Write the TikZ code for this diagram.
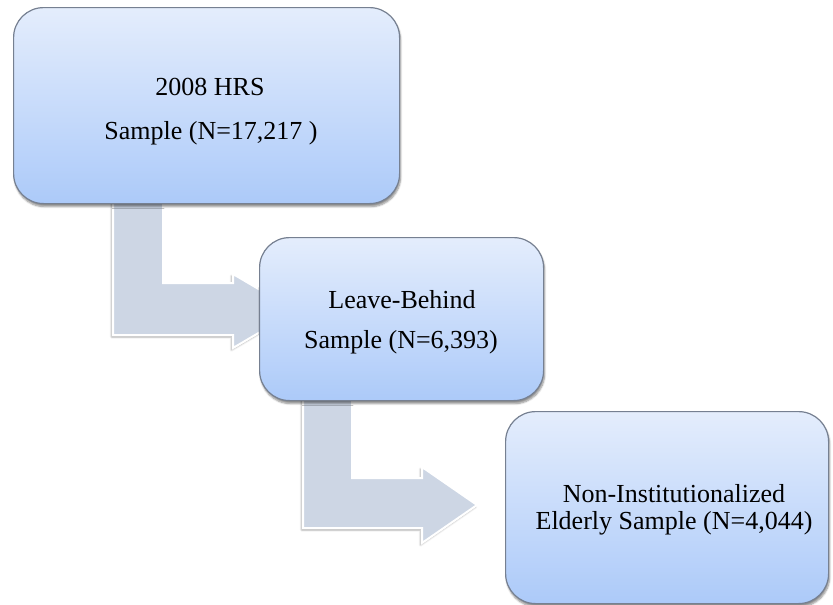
\documentclass[tikz,border=0pt]{standalone}
\usepackage{fontspec}
\setmainfont{Liberation Serif}
\usetikzlibrary{shadows.blur}
\definecolor{boxtop}{RGB}{228,237,252}
\definecolor{boxbot}{RGB}{172,202,249}
\definecolor{boxline}{RGB}{118,128,145}
\definecolor{arrowfill}{RGB}{205,214,228}
\tikzset{
  flowbox/.style={draw=boxline, line width=1.2pt, rounded corners=30pt,
    top color=boxtop, bottom color=boxbot, inner sep=0pt,
    blur shadow={shadow xshift=1pt, shadow yshift=-3pt, shadow blur steps=6, shadow opacity=45}},
  bentarrow/.style={fill=arrowfill, draw=white, line width=2pt, line join=miter,
    blur shadow={shadow xshift=-1.5pt, shadow yshift=-2pt, shadow blur steps=4, shadow opacity=35}},
  boxtext/.style={font=\fontsize{26}{30}\selectfont, anchor=base, inner sep=0pt}
}
\begin{document}
\begin{tikzpicture}[x=1pt, y=-1pt]
\useasboundingbox (0,0) rectangle (833,605);
% bent arrows (drawn first, under the boxes)
\draw[bentarrow] (113,190) -- (163,190) -- (163,283) -- (233,283) -- (233,274)
  -- (296,311) -- (233,348) -- (233,335) -- (113,335) -- cycle;
\draw[bentarrow] (303,385) -- (352,385) -- (352,478) -- (422,478) -- (422,467)
  -- (477,505) -- (422,543) -- (422,528) -- (303,528) -- cycle;
% boxes
\node[flowbox, minimum width=386pt, minimum height=196pt, anchor=north west] (b1) at (13,7) {};
\node[flowbox, minimum width=284pt, minimum height=163pt, anchor=north west] (b2) at (259,237) {};
\node[flowbox, minimum width=323pt, minimum height=192pt, anchor=north west] (b3) at (505,411) {};
% texts
\node[boxtext] (t1a) at (210,95) {2008 HRS};
\node[boxtext] (t1b) at (211,139) {Sample (N=17,217 )};
\node[boxtext] (t2a) at (402,308) {Leave-Behind};
\node[boxtext] (t2b) at (401,348) {Sample (N=6,393)};
\node[boxtext] (t3a) at (674,502) {Non-Institutionalized};
\node[boxtext] (t3b) at (674,529) {Elderly Sample (N=4,044)};
\end{tikzpicture}
\end{document}
